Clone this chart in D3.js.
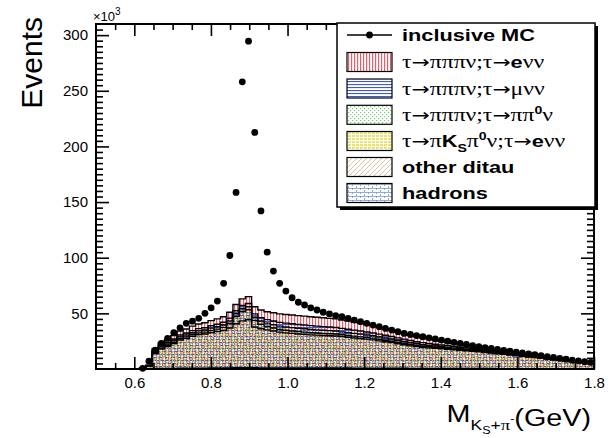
<!DOCTYPE html>
<html lang="en">
<head>
  <meta charset="UTF-8">
  <script src="https://cdn.jsdelivr.net/npm/d3@7"></script>
  <title>Ks pi mass</title>
  <style>
    body { margin: 0; background: white; }
    text { font-family: "Liberation Sans", Arial, Helvetica, sans-serif; fill: black; }
    .sym { font-family: "Liberation Serif", "DejaVu Serif", serif; font-weight: normal; font-size: 18.5px; }
    .arr { font-family: "DejaVu Sans", sans-serif; font-weight: normal; }
    .b { font-weight: bold; }
  </style>
</head>
<body>
<script>
  // ---- data (thousands of events per bin), bins of 0.01625 GeV starting at bin 7 ----
  const xMin = 0.5, xMax = 1.8, nBins = 80, firstBin = 7;
  const mcEvents = [0.6, 7, 17, 23, 27.5, 32.6, 37, 41, 43, 45.5, 50, 55, 61, 77, 102, 158.7,
    258, 294.6, 212.6, 142, 105, 88, 77, 70, 64, 60, 57.5, 55, 53, 51, 49.5, 48,
    47, 45.5, 44, 42.5, 41, 39.5, 38, 36.5, 35, 33.5, 32, 31, 30, 29, 28, 27,
    26, 25, 24, 23, 22, 21, 20, 19.2, 18.4, 17.6, 16.8, 16, 15.2, 14.4, 13.6, 12.8,
    12, 11.2, 10.4, 9.6, 8.8, 8, 7.3, 6.6, 6];
  const hadrons = [.02, .07, .4, .5, .5, .6, .7, .7, .8, .8, .8, .9, .9, .9, 1.0, 1.1,
    1.2, 1.2, 1.1, 1.0, 1.0, 1.0, 1.0, 1.0, 1.0, 1.0, 1.0, 1.0, .9, .9, .9, .9,
    .9, .9, .8, .8, .8, .8, .8, .7, .7, .7, .7, .6, .6, .6, .6, .5,
    .5, .5, .5, .5, .4, .4, .4, .4, .4, .3, .3, .3, .3, .3, .3, .2,
    .2, .2, .2, .2, .2, .2, .1, .1, .1];
  const otherDitau = [.59, 2.6, 13.4, 17.4, 19.7, 22.3, 25.3, 26.8, 28.6, 30.1, 30.6, 31.9, 32.7, 33.7, 35.9, 39.6,
    42.0, 43.0, 36.6, 35.2, 34.2, 33.2, 32.1, 31.5, 31.0, 30.5, 30.1, 29.7, 29.5, 29.2, 29.0, 28.7,
    28.2, 27.5, 27.1, 26.5, 26.0, 25.4, 24.5, 23.8, 23.0, 22.0, 21.1, 20.2, 19.5, 18.8, 18.4, 18.0,
    17.7, 17.2, 16.8, 16.2, 16.0, 15.4, 15.0, 14.4, 13.9, 13.4, 12.8, 12.3, 11.6, 11.1, 10.5, 10.0,
    9.4, 8.7, 8.2, 7.4, 6.9, 6.2, 5.8, 5.3, 4.8];
  const piKsPi0 = [.03, .14, .7, .9, 1.1, 1.2, 1.4, 1.4, 1.5, 1.6, 1.7, 1.9, 2.2, 2.8, 4.0, 6.5,
    8.5, 9.0, 6.0, 4.0, 3.0, 2.6, 2.4, 2.3, 2.2, 2.1, 2.0, 2.0, 1.9, 1.9, 1.8, 1.8,
    1.7, 1.7, 1.6, 1.6, 1.5, 1.5, 1.4, 1.4, 1.3, 1.3, 1.2, 1.2, 1.1, 1.1, 1.0, 1.0,
    .9, .9, .8, .8, .7, .7, .6, .6, .5, .5, .5, .4, .4, .4, .3, .3,
    .3, .3, .2, .2, .2, .2, .2, .1, .1];
  const pipipi0 = [.04, .16, .8, 1.1, 1.2, 1.4, 1.5, 1.6, 1.7, 1.8, 1.9, 2.0, 2.1, 2.2, 2.3, 2.5,
    2.6, 2.7, 2.8, 2.9, 3.0, 3.0, 3.0, 3.0, 3.0, 3.0, 3.0, 2.9, 2.9, 2.8, 2.8, 2.7,
    2.6, 2.6, 2.5, 2.4, 2.3, 2.2, 2.1, 2.0, 1.9, 1.8, 1.7, 1.6, 1.5, 1.4, 1.3, 1.2,
    1.1, 1.0, .9, .9, .8, .8, .7, .7, .6, .6, .5, .5, .5, .4, .4, .4,
    .3, .3, .3, .3, .2, .2, .2, .2, .2];
  const pipimu = [.04, .18, .9, 1.2, 1.3, 1.5, 1.7, 1.8, 1.9, 2.0, 2.1, 2.2, 2.3, 2.4, 2.5, 2.7,
    2.8, 2.9, 3.0, 3.1, 3.2, 3.3, 3.4, 3.4, 3.4, 3.4, 3.4, 3.4, 3.3, 3.3, 3.2, 3.2,
    3.1, 3.0, 2.9, 2.8, 2.7, 2.6, 2.5, 2.4, 2.3, 2.2, 2.1, 2.0, 1.9, 1.8, 1.7, 1.6,
    1.5, 1.4, 1.3, 1.2, 1.1, 1.0, .9, .8, .8, .7, .7, .6, .6, .5, .5, .4,
    .4, .4, .3, .3, .3, .3, .2, .2, .2];
  const pipie = [.08, .35, 1.8, 2.4, 2.7, 3.0, 3.4, 3.7, 4.0, 4.2, 4.4, 4.6, 4.8, 5.0, 5.3, 5.6,
    5.9, 6.2, 6.5, 6.8, 7.1, 7.4, 7.6, 7.8, 7.9, 8.0, 8.0, 8.0, 8.0, 7.9, 7.8, 7.7,
    7.5, 7.3, 7.1, 6.9, 6.7, 6.5, 6.2, 5.9, 5.6, 5.3, 5.0, 4.7, 4.4, 4.1, 3.8, 3.5,
    3.2, 3.0, 2.8, 2.6, 2.4, 2.2, 2.0, 1.8, 1.6, 1.5, 1.4, 1.3, 1.2, 1.1, 1.0, 0.9,
    .8, .7, .6, .6, .5, .5, .4, .4, .3];
  const xTicks = [0.6, 0.8, 1.0, 1.2, 1.4, 1.6, 1.8];
  const yTicks = [50, 100, 150, 200, 250, 300];

  const W = 615, H = 438;
  const svg = d3.select('body').append('svg').attr('width', W).attr('height', H);
  const x = d3.scaleLinear().domain([xMin, xMax]).range([96, 594]);
  const y = d3.scaleLinear().domain([0, 310]).range([369, 24]);
  const bw = (xMax - xMin) / nBins;

  // ---- fill patterns ----
  const defs = svg.append('defs');
  function pat(id, w, h, draw) {
    const p = defs.append('pattern').attr('id', id).attr('patternUnits', 'userSpaceOnUse')
      .attr('width', w).attr('height', h);
    draw(p);
  }
  pat('pRed', 3, 3, p => p.append('rect').attr('x', 0).attr('y', 0).attr('width', 1.2).attr('height', 3).attr('fill', '#e5606a'));
  pat('pBlue', 3, 3, p => p.append('rect').attr('x', 0).attr('y', 0).attr('width', 3).attr('height', 1.1).attr('fill', '#4258d0'));
  pat('pGreen', 4, 4, p => {
    p.append('rect').attr('x', 0).attr('y', 0).attr('width', 1.2).attr('height', 1.2).attr('fill', '#7cc97c');
    p.append('rect').attr('x', 2).attr('y', 2).attr('width', 1.2).attr('height', 1.2).attr('fill', '#7cc97c');
  });
  pat('pYellow', 6, 4, p => {
    p.append('rect').attr('x', 1).attr('y', 1).attr('width', 2).attr('height', 1.2).attr('fill', '#dcd030');
    p.append('rect').attr('x', 4).attr('y', 3).attr('width', 2).attr('height', 1.2).attr('fill', '#dcd030');
  });
  // the same yellow texture, denser so it reads in the small legend box
  pat('pYellowKey', 4, 3, p => {
    p.append('rect').attr('x', 0).attr('y', 0).attr('width', 3).attr('height', 2).attr('fill', '#ece36a');
  });
  pat('pTan', 5, 5, p => p.append('path').attr('d', 'M0,5 L5,0 M-1,1 L1,-1 M4,6 L6,4')
    .attr('stroke', '#cfb090').attr('stroke-width', 0.8));
  pat('pHad', 8, 4, p => {
    p.append('rect').attr('x', 0).attr('y', 0).attr('width', 8).attr('height', 0.8).attr('fill', '#7d96c8');
    p.append('rect').attr('x', 0).attr('y', 0).attr('width', 0.8).attr('height', 2).attr('fill', '#7d96c8');
    p.append('rect').attr('x', 4).attr('y', 2).attr('width', 0.8).attr('height', 2).attr('fill', '#7d96c8');
  });

  // ---- stack (bottom to top) ----
  const keys = ['hadrons', 'otherDitau', 'piKsPi0', 'pipipi0', 'pipimu', 'pipie'];
  const fills = { hadrons: 'pHad', otherDitau: 'pTan', piKsPi0: 'pYellow', pipipi0: 'pGreen', pipimu: 'pBlue', pipie: 'pRed' };
  const table = mcEvents.map((m, i) => ({
    lo: xMin + (firstBin + i) * bw,
    hadrons: hadrons[i], otherDitau: otherDitau[i], piKsPi0: piKsPi0[i],
    pipipi0: pipipi0[i], pipimu: pipimu[i], pipie: pipie[i], mc: m
  }));
  const series = d3.stack().keys(keys)(table);

  const area = d3.area().curve(d3.curveStepAfter)
    .x(d => x(d.x)).y0(y(0)).y1(d => y(d.v));

  const plot = svg.append('g');
  // ROOT THStack style: every cumulative histogram filled from zero, biggest first
  series.slice().reverse().forEach(s => {
    const pts = s.map(d => ({ x: d.data.lo, v: d[1] }));
    pts.push({ x: pts[pts.length - 1].x + bw, v: pts[pts.length - 1].v });
    plot.append('path').attr('d', area(pts))
      .attr('fill', `url(#${fills[s.key]})`)
      .attr('stroke', 'black').attr('stroke-width', 1.4);
  });

  // inclusive MC points
  plot.selectAll('circle.mc').data(table).enter().append('circle')
    .attr('class', 'mc')
    .attr('cx', d => x(d.lo + bw / 2)).attr('cy', d => y(d.mc)).attr('r', 3.4)
    .attr('fill', 'black');

  // ---- axes ----
  const fmt = d3.format('.1f');
  const xMinor = d3.range(0.55, 1.8001, 0.05).filter(v => xTicks.every(t => Math.abs(t - v) > 1e-6));
  const yMinor = d3.range(5, 310, 5).filter(v => v % 50 !== 0);
  function axis(gen, pos, vals, size, labels) {
    const g = svg.append('g').attr('transform', pos)
      .call(gen.tickValues(vals).tickSize(size).tickSizeOuter(0)
        .tickFormat(labels ? labels : ''));
    g.select('.domain').remove();
    g.selectAll('.tick line').attr('stroke', 'black').attr('stroke-width', 1.6);
    g.selectAll('text').attr('font-size', 15).attr('fill', 'black')
      .attr('font-family', '"Liberation Sans", Arial, sans-serif');
    return g;
  }
  axis(d3.axisBottom(x).tickPadding(8), `translate(0,${y(0)})`, xTicks, -12, fmt);
  axis(d3.axisBottom(x), `translate(0,${y(0)})`, xMinor, -6);
  axis(d3.axisTop(x), `translate(0,${y(310)})`, xTicks, -12);
  axis(d3.axisTop(x), `translate(0,${y(310)})`, xMinor, -6);
  axis(d3.axisLeft(y).tickPadding(8), `translate(${x(xMin)},0)`, yTicks, -13, d3.format('d'));
  axis(d3.axisLeft(y), `translate(${x(xMin)},0)`, yMinor, -7);
  axis(d3.axisRight(y), `translate(${x(xMax)},0)`, yTicks, -13);
  axis(d3.axisRight(y), `translate(${x(xMax)},0)`, yMinor, -7);

  svg.append('rect').attr('x', x(xMin)).attr('y', y(310))
    .attr('width', x(xMax) - x(xMin)).attr('height', y(0) - y(310))
    .attr('fill', 'none').attr('stroke', 'black').attr('stroke-width', 2);

  // exponent label
  const ex = svg.append('text').attr('x', 93).attr('y', 21).attr('font-size', 13);
  ex.append('tspan').text('×10');
  ex.append('tspan').attr('dy', -6).attr('font-size', 10).text('3');

  // axis titles
  svg.append('text').attr('transform', 'translate(42,17) rotate(-90)')
    .attr('text-anchor', 'end').attr('font-size', 30).text('Events');

  const xt = svg.append('text').attr('transform', 'translate(591,422) scale(1.25,1)')
    .attr('text-anchor', 'end').attr('font-size', 23);
  xt.append('tspan').text('M');
  xt.append('tspan').attr('dy', 8).attr('font-size', 14).text('K');
  xt.append('tspan').attr('dy', 4).attr('font-size', 10).text('S');
  xt.append('tspan').attr('dy', -4).attr('font-size', 14).text('+');
  xt.append('tspan').attr('font-family', '"Liberation Serif", serif').attr('font-size', 15).text('π');
  xt.append('tspan').attr('dy', -8).attr('font-size', 10).text('-');
  xt.append('tspan').attr('dy', 4).attr('font-size', 23).text('(GeV)');

  // ---- legend ----
  const lg = svg.append('g');
  lg.append('rect').attr('x', 340).attr('y', 26).attr('width', 258).attr('height', 184).attr('fill', 'black');
  lg.append('rect').attr('x', 337).attr('y', 23).attr('width', 258).attr('height', 184)
    .attr('fill', 'white').attr('stroke', 'black').attr('stroke-width', 1.5);

  const rowY = [35, 62, 88.5, 114.8, 141, 167, 193];
  lg.append('line').attr('x1', 347).attr('x2', 392).attr('y1', rowY[0]).attr('y2', rowY[0])
    .attr('stroke', 'black').attr('stroke-width', 1.4);
  lg.append('circle').attr('cx', 369.5).attr('cy', rowY[0]).attr('r', 3.4).attr('fill', 'black');

  const S = 'sym', B = 'b';
  const entries = [
    { pat: null, parts: [[B, 'inclusive MC']] },
    { pat: 'pRed', parts: [[S, 'τ→πππν;τ→'], [B, 'e'], [S, 'νν']] },
    { pat: 'pBlue', parts: [[S, 'τ→πππν;τ→μνν']] },
    { pat: 'pGreen', parts: [[S, 'τ→πππν;τ→ππ'], [B, '0', 'sup'], [S, 'ν']] },
    { pat: 'pYellowKey', parts: [[S, 'τ→π'], [B, 'K'], [B, 'S', 'sub'], [S, 'π'], [B, '0', 'sup'], [S, 'ν;τ→'], [B, 'e'], [S, 'νν']] },
    { pat: 'pTan', parts: [[B, 'other ditau']] },
    { pat: 'pHad', parts: [[B, 'hadrons']] }
  ];
  entries.forEach((e, i) => {
    if (e.pat) {
      lg.append('rect').attr('x', 347).attr('y', rowY[i] - 9.5).attr('width', 45).attr('height', 19)
        .attr('fill', `url(#${e.pat})`).attr('stroke', 'black').attr('stroke-width', 1.2);
    }
    const t = lg.append('text').attr('transform', `translate(402,${rowY[i] + 6}) scale(1.28,1)`)
      .attr('font-size', 17);
    let shift = 0;
    e.parts.forEach(p => {
      // arrows in a tighter font, the rest as given
      const pieces = p[0] === S ? p[1].split(/(→)/).filter(s => s) : [p[1]];
      pieces.forEach(txt => {
        const ts = t.append('tspan').attr('class', txt === '→' ? 'arr' : p[0]).text(txt);
        const want = p[2] === 'sup' ? -7 : p[2] === 'sub' ? 5 : 0;
        if (want !== shift) { ts.attr('dy', want - shift); shift = want; }
        if (p[2]) ts.attr('font-size', 11);
      });
    });
  });
</script>
</body>
</html>
